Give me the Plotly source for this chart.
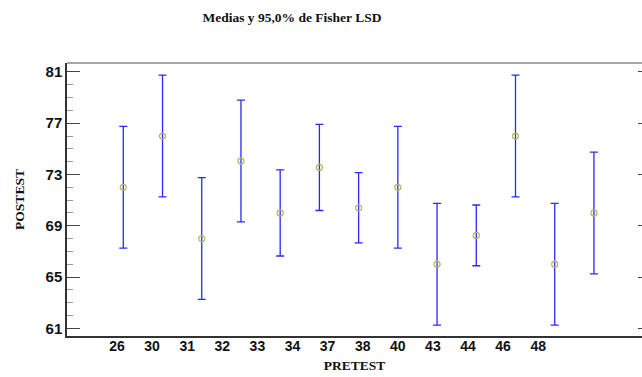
import plotly.graph_objects as go

categories = ["26", "30", "31", "32", "33", "34", "37", "38", "40", "43", "44", "46", "48"]
means = [72.0, 76.0, 68.0, 74.05, 70.0, 73.55, 70.4, 72.0, 66.0, 68.25, 76.0, 66.0, 70.0]
half_lsd = [4.75, 4.75, 4.75, 4.75, 3.36, 3.36, 2.74, 4.75, 4.75, 2.37, 4.75, 4.75, 4.75]
y_ticks = [61, 65, 69, 73, 77, 81]

W, H = 642, 377
L, R, T, B = 67, 0, 63, 41

idx = list(range(len(categories)))

fig = go.Figure()
fig.add_trace(go.Scatter(
    x=idx, y=means, mode="markers",
    marker=dict(symbol="circle-open", size=6, color="#b8b868", line=dict(width=1.3, color="#b8b868")),
    error_y=dict(type="data", array=half_lsd, visible=True, color="#2a2aff", thickness=1.3, width=4),
    xaxis="x", yaxis="y", showlegend=False, hoverinfo="skip",
))
fig.add_trace(go.Scatter(x=idx, y=means, mode="markers", marker=dict(opacity=0),
                         xaxis="x2", yaxis="y", showlegend=False, hoverinfo="skip"))
fig.add_trace(go.Scatter(x=idx, y=means, mode="markers", marker=dict(opacity=0),
                         xaxis="x", yaxis="y2", showlegend=False, hoverinfo="skip"))

bar0, bar_step = 123.3, 39.22
lab0, lab_step = 117.0, 35.1

fig.update_layout(
    width=W, height=H, margin=dict(l=L, r=R, t=T, b=B),
    paper_bgcolor="white", plot_bgcolor="white",
    title=dict(text="<b>Medias y 95,0% de Fisher LSD</b>", x=292 / W, xanchor="center",
               y=1 - 17 / H, yanchor="middle",
               font=dict(family="Liberation Serif", size=13.5, color="#111")),
    xaxis=dict(range=[(L - bar0) / bar_step, (W - R - bar0) / bar_step],
               showticklabels=False, ticks="", showgrid=False, zeroline=False,
               showline=True, linecolor="#333", linewidth=1.5),
    xaxis2=dict(overlaying="x", anchor="y", side="bottom",
                range=[(L - lab0) / lab_step, (W - R - lab0) / lab_step],
                tickmode="array", tickvals=idx, ticktext=[f"<b>{c}</b>" for c in categories], ticks="",
                showgrid=False, zeroline=False, showline=False,
                tickfont=dict(family="Liberation Sans", size=14, color="#111"),
                title=dict(text="<b>PRETEST</b>", standoff=7,
                           font=dict(family="Liberation Serif", size=13.5, color="#111"))),
    yaxis=dict(range=[60.4, 81.7], tickmode="array", tickvals=y_ticks,
               ticktext=[f"<b>{v}</b>" for v in y_ticks],
               ticks="inside", ticklen=13, tickcolor="#444", tickwidth=1,
               minor=dict(dtick=1, tick0=61, ticks="inside", ticklen=6, tickcolor="#999", tickwidth=1, showgrid=False),
               showgrid=False, zeroline=False, showline=True, linecolor="#333", linewidth=1.5,
               tickfont=dict(family="Liberation Sans", size=15, color="#111"),
               title=dict(text="<b>POSTEST</b>", standoff=18,
                          font=dict(family="Liberation Serif", size=13.5, color="#111"))),
    yaxis2=dict(overlaying="y", side="right", anchor="x", range=[60.4, 81.7],
                tickmode="array", tickvals=y_ticks, ticks="inside", ticklen=4, tickcolor="#444",
                showticklabels=False, showgrid=False, zeroline=False, showline=False),
    shapes=[dict(type="line", xref="paper", yref="paper", x0=0, x1=1, y0=1, y1=1,
                 line=dict(color="#888", width=1.5))],
)

fig.write_html("out.html")
